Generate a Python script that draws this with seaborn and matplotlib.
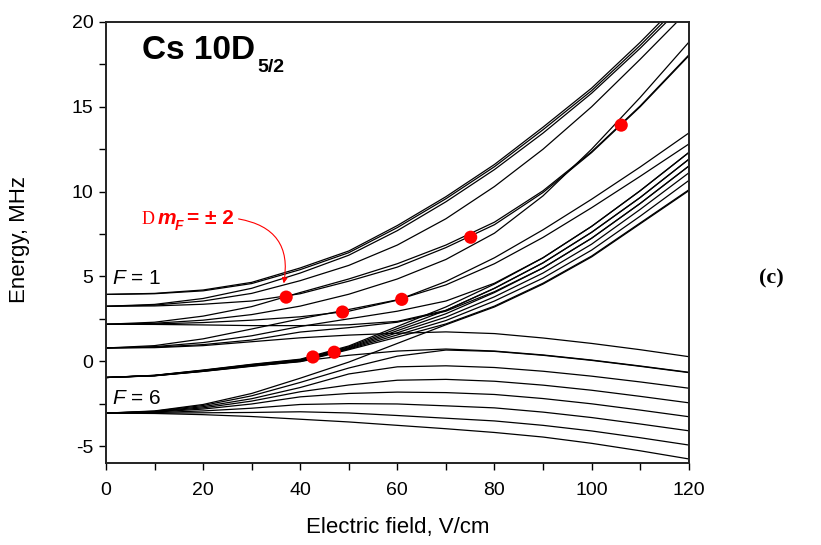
import matplotlib
matplotlib.use("Agg")
import matplotlib.pyplot as plt
import pandas as pd
import seaborn as sns
from matplotlib.ticker import MultipleLocator

# electric field grid (V/cm)
field = [0, 10, 20, 30, 40, 50, 60, 70, 80, 90, 100, 110, 120]

# energies (MHz) of the Stark sublevels
A1 = [3.94, 4.00, 4.20, 4.65, 5.50, 6.50, 8.00, 9.70, 11.60, 13.80, 16.10, 18.80, 21.70]
A2 = [3.94, 3.98, 4.15, 4.58, 5.40, 6.40, 7.88, 9.58, 11.47, 13.65, 15.95, 18.62, 21.50]
A3 = [3.24, 3.35, 3.70, 4.30, 5.20, 6.25, 7.70, 9.40, 11.30, 13.45, 15.80, 18.45, 21.30]
A4 = [3.24, 3.31, 3.55, 4.00, 4.75, 5.65, 6.85, 8.40, 10.30, 12.50, 15.00, 17.80, 20.70]
S1 = [2.18, 2.24, 2.42, 2.75, 3.25, 3.95, 4.85, 6.00, 7.55, 9.75, 12.50, 15.55, 18.80]
S2 = [3.24, 3.26, 3.36, 3.55, 3.98, 4.72, 5.55, 6.70, 8.05, 9.95, 12.30, 15.00, 18.00]
S3 = [2.18, 2.30, 2.66, 3.22, 4.05, 4.85, 5.75, 6.85, 8.20, 10.05, 12.35, 15.05, 18.05]
B1 = [2.18, 2.20, 2.28, 2.42, 2.62, 2.95, 3.60, 4.70, 6.10, 7.75, 9.55, 11.45, 13.45]
B2 = [0.78, 0.92, 1.32, 1.90, 2.50, 3.05, 3.62, 4.50, 5.75, 7.30, 9.05, 10.90, 12.80]
B3 = [-0.96, -0.83, -0.52, -0.18, 0.12, 0.90, 2.05, 3.20, 4.55, 6.10, 7.95, 10.05, 12.30]
B4 = [-0.96, -0.835, -0.535, -0.20, 0.09, 0.85, 1.92, 3.00, 4.30, 5.80, 7.60, 9.65, 11.90]
B5 = [-0.96, -0.84, -0.55, -0.22, 0.06, 0.80, 1.80, 2.80, 4.05, 5.50, 7.25, 9.30, 11.50]
B6 = [-0.96, -0.845, -0.565, -0.24, 0.03, 0.76, 1.68, 2.60, 3.80, 5.20, 6.90, 8.95, 11.10]
B7 = [-0.96, -0.85, -0.58, -0.26, 0.00, 0.72, 1.55, 2.40, 3.55, 4.90, 6.55, 8.55, 10.65]
B8 = [-0.96, -0.855, -0.595, -0.28, -0.03, 0.68, 1.42, 2.20, 3.25, 4.60, 6.20, 8.15, 10.10]
C1 = [0.78, 0.80, 0.92, 1.15, 1.38, 1.54, 1.65, 1.73, 1.63, 1.37, 1.05, 0.68, 0.27]
C2 = [-0.96, -0.86, -0.60, -0.30, 0.00, 0.35, 0.60, 0.72, 0.60, 0.37, 0.07, -0.28, -0.65]
C3 = [-3.06, -2.97, -2.68, -2.21, -1.55, -0.75, -0.33, -0.27, -0.37, -0.59, -0.88, -1.22, -1.59]
C4 = [-3.06, -2.98, -2.75, -2.35, -1.80, -1.40, -1.12, -1.07, -1.18, -1.41, -1.71, -2.07, -2.45]
C5 = [-3.06, -3.00, -2.82, -2.52, -2.10, -1.90, -1.82, -1.85, -1.96, -2.20, -2.51, -2.88, -3.27]
C6 = [-3.06, -3.03, -2.93, -2.77, -2.55, -2.50, -2.52, -2.63, -2.75, -3.00, -3.32, -3.70, -4.10]
C7 = [-3.06, -3.06, -3.04, -3.02, -2.98, -3.05, -3.20, -3.36, -3.52, -3.78, -4.11, -4.51, -4.94]
C8 = [-3.06, -3.08, -3.15, -3.26, -3.42, -3.58, -3.78, -3.98, -4.20, -4.47, -4.84, -5.28, -5.76]
X1 = [2.18, 2.17, 2.14, 2.10, 2.10, 2.15, 2.35, 3.00, 4.30, 5.80, 7.60, 9.65, 11.90]
X2 = [0.78, 0.86, 1.10, 1.50, 2.05, 2.50, 2.95, 3.55, 4.60, 6.10, 7.95, 10.05, 12.30]
X3 = [0.78, 0.83, 0.98, 1.25, 1.72, 1.98, 2.30, 2.95, 4.10, 5.50, 7.25, 9.30, 11.50]
X4 = [-3.06, -2.93, -2.55, -1.90, -1.00, -0.05, 1.05, 2.15, 3.20, 4.55, 6.15, 8.10, 10.05]
X5 = [-3.06, -2.95, -2.61, -2.04, -1.25, -0.40, 0.30, 0.66, 0.58, 0.35, 0.05, -0.30, -0.67]

levels = {
    "A1": A1, "A2": A2, "A3": A3, "A4": A4, "S1": S1, "S2": S2, "S3": S3,
    "B1": B1, "B2": B2, "B3": B3, "B4": B4, "B5": B5, "B6": B6, "B7": B7, "B8": B8,
    "C1": C1, "C2": C2, "C3": C3, "C4": C4, "C5": C5, "C6": C6, "C7": C7, "C8": C8,
    "X1": X1, "X2": X2, "X3": X3, "X4": X4, "X5": X5,
}

# crossings marked with red dots
dot_field = [37.1, 48.7, 60.9, 75.1, 106.1, 42.6, 47.0]
dot_energy = [3.78, 2.90, 3.65, 7.31, 13.92, 0.25, 0.53]

W, H = 821, 545

sns.set_theme(style="ticks")
plt.rcParams["font.family"] = ["Liberation Sans", "DejaVu Sans"]
plt.rcParams["mathtext.fontset"] = "custom"
plt.rcParams["mathtext.rm"] = "Liberation Sans"
plt.rcParams["mathtext.it"] = "Liberation Sans:italic"
plt.rcParams["axes.unicode_minus"] = False
plt.rcParams["text.color"] = "black"
plt.rcParams["axes.labelcolor"] = "black"
plt.rcParams["xtick.color"] = "black"
plt.rcParams["ytick.color"] = "black"

rows = []
for name, vals in levels.items():
    for f, e in zip(field, vals):
        rows.append({"level": name, "field": f, "energy": e})
df = pd.DataFrame(rows)

fig = plt.figure(figsize=(W / 100, H / 100), dpi=100)
ax = fig.add_axes([106 / W, 1 - 463 / H, 582.7 / W, 441 / H])

sns.lineplot(data=df, x="field", y="energy", units="level", estimator=None,
             color="black", linewidth=0.9, legend=False, ax=ax)
sns.scatterplot(x=dot_field, y=dot_energy, color="#ff0000", s=90,
                edgecolor="none", zorder=5, ax=ax)

ax.set_xlim(0, 120)
ax.set_ylim(-6, 20)
ax.xaxis.set_major_locator(MultipleLocator(20))
ax.xaxis.set_minor_locator(MultipleLocator(10))
ax.yaxis.set_major_locator(MultipleLocator(5))
ax.yaxis.set_minor_locator(MultipleLocator(2.5))
ax.tick_params(which="both", direction="out", length=5, width=1.0,
               color="black", top=False, right=False)
ax.tick_params(axis="x", which="major", labelsize=14, pad=9)
ax.tick_params(axis="y", which="major", labelsize=14, pad=4)
for s in ax.spines.values():
    s.set_linewidth(1.4)
    s.set_color("#222222")
    s.set_visible(True)

ax.set_xlabel("Electric field, V/cm", fontsize=16)
ax.set_ylabel("Energy, MHz", fontsize=16)
ax.xaxis.set_label_coords(0.5, -0.122)
ax.yaxis.set_label_coords(-0.13, 0.506)

# red arrow to the first crossing
ax.annotate("", xy=(36.6, 4.59), xytext=(27.3, 8.39),
            arrowprops=dict(arrowstyle="-|>", color="#ff0000", lw=0.8,
                            connectionstyle="arc3,rad=-0.5",
                            shrinkA=0, shrinkB=0, mutation_scale=8))


def px(x, y):
    return x / W, 1 - y / H


fig.text(*px(142, 59), "Cs 10D", fontsize=24, fontweight="bold", va="baseline")
fig.text(*px(257, 72), "5/2", fontsize=14, fontweight="bold", va="baseline")

red = "#ff0000"
fig.text(*px(142, 224), "D", fontsize=13, color=red, va="baseline",
         family=["Liberation Serif", "DejaVu Serif"])
fig.text(*px(158, 224), "m", fontsize=15, color=red, va="baseline",
         fontweight="bold", fontstyle="italic")
fig.text(*px(175, 230), "F", fontsize=10, color=red, va="baseline",
         fontweight="bold", fontstyle="italic")
fig.text(*px(187, 224), "= \u00b1 2", fontsize=15, color=red, va="baseline",
         fontweight="bold")

fig.text(*px(112, 284), r"$F$ = 1", fontsize=15, va="baseline")
fig.text(*px(112, 404), r"$F$ = 6", fontsize=15, va="baseline")

fig.text(*px(771, 278), "(c)", fontsize=16, fontweight="bold", ha="center",
         va="center", family=["Liberation Serif", "DejaVu Serif"])

fig.savefig("out.png", dpi=100)
